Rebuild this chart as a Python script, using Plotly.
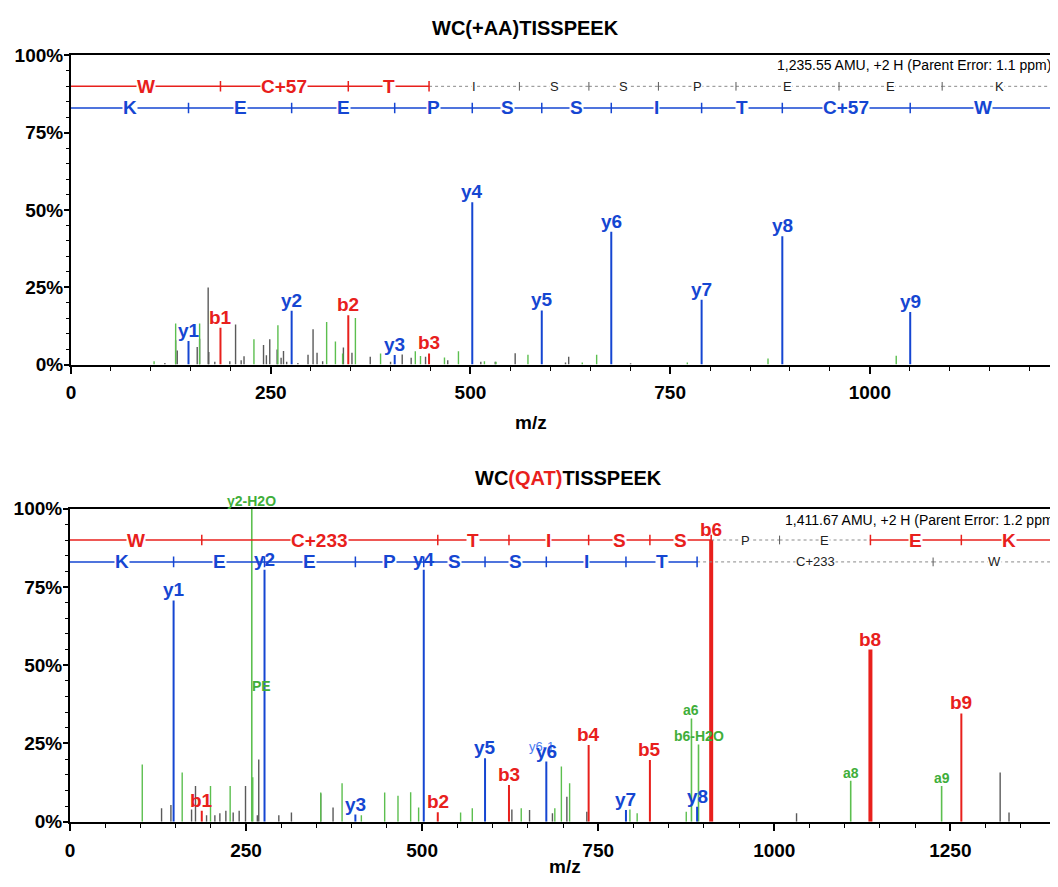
import plotly.graph_objects as go

# ================= DATA =================
# ---- Top spectrum: WC(+AA)TISSPEEK ----
top_y_lab = ["y1", "y2", "y3", "y4", "y5", "y6", "y7", "y8", "y9"]
top_y_mz = [147.1, 276.2, 405.2, 502.3, 589.3, 676.3, 789.4, 890.4, 1050.5]
top_y_int = [7.6, 17.4, 3.1, 52.5, 17.5, 43.0, 21.0, 41.5, 17.0]

top_b_lab = ["b1", "b2", "b3"]
top_b_mz = [187.1, 347.1, 448.2]
top_b_int = [11.9, 16.0, 3.6]

top_green_mz = [104, 131, 161, 229, 259, 320, 331, 340, 356, 387.5, 431, 437.5,
                467.5, 485, 517.5, 532, 572, 640, 658, 771.5, 872.5, 1033]
top_green_int = [1.1, 13.3, 13.3, 8.2, 12.7, 13.8, 7.5, 3.6, 15.1, 3.6, 4.3, 2.8,
                 2.3, 4.3, 1.1, 0.9, 3.2, 0.7, 3.2, 0.7, 2.0, 2.9]

top_gray_mz = [117.5, 131, 133, 158, 161, 171.7, 172.5, 180, 198.8, 206, 213, 216.6,
               241, 244.6, 248.8, 258, 263, 266, 270, 284, 296.7, 303, 308, 315,
               341, 351.7, 374.6, 400, 414.6, 425.8, 443.8, 471.6, 513, 531, 556,
               619, 623, 700.5]
top_gray_int = [0.5, 7.9, 4.6, 5.7, 8.4, 24.9, 4.1, 0.9, 1.1, 13.0, 1.4, 2.7,
                6.3, 3.0, 8.2, 4.9, 2.2, 4.4, 0.9, 0.5, 3.2, 11.4, 3.8, 1.1,
                5.5, 3.8, 2.5, 0.9, 3.3, 2.2, 2.5, 1.4, 0.9, 0.9, 3.7,
                0.7, 2.5, 0.4]

top_b_ladder = [187.1, 347.1, 448.2, 561.3, 648.3, 735.3, 832.4, 961.4, 1090.5]
top_b_res = ["W", "C+57", "T", "I", "S", "S", "P", "E", "E", "K"]
top_b_on = [1, 1, 1, 0, 0, 0, 0, 0, 0, 0]
top_y_ladder = [147.1, 276.2, 405.2, 502.3, 589.3, 676.3, 789.4, 890.4, 1050.5]
top_y_res = ["K", "E", "E", "P", "S", "S", "I", "T", "C+57", "W"]
top_y_on = [1, 1, 1, 1, 1, 1, 1, 1, 1, 1]

# ---- Bottom spectrum: WC(QAT)TISSPEEK ----
bot_y_lab = ["y1", "y2", "y3", "y4", "y5", "y6", "y7", "y8"]
bot_y_mz = [147.1, 276.2, 405.2, 502.3, 589.3, 676.3, 789.4, 890.4]
bot_y_int = [70.7, 80.5, 2.3, 80.5, 20.3, 19.2, 3.7, 4.8]

bot_b_lab = ["b1", "b2", "b3", "b4", "b5", "b6", "b8", "b9"]
bot_b_mz = [187.1, 522.2, 623.3, 736.4, 823.4, 910.4, 1136.5, 1265.6]
bot_b_int = [3.5, 3.0, 11.7, 24.5, 19.7, 90.0, 55.0, 34.6]

bot_glab = ["y2-H2O", "a6", "b6-H2O", "a8", "a9"]
bot_glab_mz = [258.1, 882.4, 892.4, 1108.5, 1237.6]
bot_glab_int = [100.0, 33.0, 24.7, 13.1, 11.4]

bot_green_mz = [102.6, 159.3, 199.5, 227.4, 259.5, 356, 386.3, 413.7, 446.8, 465.7,
                483.7, 495, 554.6, 571.2, 640.7, 688.4, 697.7, 709.4, 795, 805.3, 875]
bot_green_int = [18.3, 15.7, 11.4, 11.4, 14.2, 9.3, 12.3, 2.1, 9.3, 8.3,
                 9.4, 4.5, 2.9, 4.3, 4.3, 4.3, 17.6, 12.3, 3.9, 2.7, 3.2]

bot_gray_mz = [130, 143.3, 172.6, 178.2, 193.9, 205.7, 212.8, 221.3, 231.7, 240.2,
               249.2, 266, 268, 296.5, 314.4, 356, 373.5, 627.4, 652.5, 685,
               705.5, 733.8, 1031.6, 1320.7, 1333.3]
bot_gray_int = [4.3, 5.3, 3.9, 11.4, 2.1, 2.1, 2.7, 3.5, 2.9, 3.5,
                11.4, 2.1, 19.9, 2.1, 2.9, 9.0, 4.5, 3.9, 3.7, 2.7,
                8.0, 3.2, 2.7, 15.7, 2.9]

bot_b_ladder = [187.1, 522.2, 623.3, 736.4, 823.4, 910.4, 1007.5, 1136.5, 1265.6]
bot_b_res = ["W", "C+233", "T", "I", "S", "S", "P", "E", "E", "K"]
bot_b_on = [1, 1, 1, 1, 1, 1, 0, 0, 1, 1]
bot_y_ladder = [147.1, 276.2, 405.2, 502.3, 589.3, 676.3, 789.4, 890.4, 1225.5]
bot_y_res = ["K", "E", "E", "P", "S", "S", "I", "T", "C+233", "W"]
bot_y_on = [1, 1, 1, 1, 1, 1, 1, 1, 0, 0]

pct_vals = [0, 25, 50, 75, 100]
pct_text = ["0%", "25%", "50%", "75%", "100%"]
mz_ticks = [0, 250, 500, 750, 1000, 1250]

top_xmax = 1233
bot_xmax = 1400

# ================= STYLE =================
RED = "#e8201c"
BLUE = "#1546d2"
GREEN = "#5cbf4f"
GLAB = "#3fae3a"
GRAY = "#5a5a5a"
DOT = "#8a8a8a"
FONT = "Liberation Sans, Arial, sans-serif"
OFF = 8                # page body margin of the html page
W, H = 1058 - OFF, 887 - 2 * OFF

fig = go.Figure()
ann = []


def sticks(mz, inten, color, width, xa, ya):
    xs, ys = [], []
    for m, v in zip(mz, inten):
        xs += [m, m, None]
        ys += [0, v, None]
    fig.add_trace(go.Scatter(x=xs, y=ys, mode="lines", line=dict(color=color, width=width),
                             xaxis=xa, yaxis=ya, hoverinfo="skip", showlegend=False))


def labels(mz, inten, texts, color, size, xa, ya):
    for m, v, t in zip(mz, inten, texts):
        ann.append(dict(x=m, y=v, xref=xa, yref=ya, text=f"<b>{t}</b>",
                        showarrow=False, xanchor="center", yanchor="bottom", yshift=-2,
                        font=dict(family=FONT, size=size, color=color)))


def ladder(pos, res, on, color, yv, xmax, xa, ya):
    edges = [0] + list(pos) + [xmax]
    sx, sy, dx, dy = [], [], [], []
    for i in range(len(res)):
        a, b = edges[i], edges[i + 1]
        if on[i]:
            sx += [a, b, None]; sy += [yv, yv, None]
        else:
            dx += [a, b, None]; dy += [yv, yv, None]
    fig.add_trace(go.Scatter(x=dx, y=dy, mode="lines", line=dict(color=DOT, width=1, dash="dot"),
                             xaxis=xa, yaxis=ya, hoverinfo="skip", showlegend=False))
    fig.add_trace(go.Scatter(x=sx, y=sy, mode="lines", line=dict(color=color, width=1.5),
                             xaxis=xa, yaxis=ya, hoverinfo="skip", showlegend=False))
    tcx, tcy, tgx, tgy = [], [], [], []
    for i, p in enumerate(pos):
        if on[i] or on[i + 1]:
            tcx += [p, p, None]; tcy += [yv - 1.7, yv + 1.7, None]
        else:
            tgx += [p, p, None]; tgy += [yv - 1.4, yv + 1.4, None]
    fig.add_trace(go.Scatter(x=tcx, y=tcy, mode="lines", line=dict(color=color, width=1.5),
                             xaxis=xa, yaxis=ya, hoverinfo="skip", showlegend=False))
    fig.add_trace(go.Scatter(x=tgx, y=tgy, mode="lines", line=dict(color=GRAY, width=1),
                             xaxis=xa, yaxis=ya, hoverinfo="skip", showlegend=False))
    for i, r in enumerate(res):
        mid = (edges[i] + edges[i + 1]) / 2
        if on[i]:
            ann.append(dict(x=mid, y=yv, xref=xa, yref=ya, text=f"<b>{r}</b>", showarrow=False,
                            xanchor="center", yanchor="middle", bgcolor="white", borderpad=0,
                            font=dict(family=FONT, size=19, color=color)))
        else:
            ann.append(dict(x=mid, y=yv, xref=xa, yref=ya, text=r, showarrow=False,
                            xanchor="center", yanchor="middle", bgcolor="white", borderpad=0,
                            font=dict(family=FONT, size=13, color="#222222")))


# ---- top panel ----
sticks(top_gray_mz, top_gray_int, GRAY, 1.4, "x", "y")
sticks(top_green_mz, top_green_int, GREEN, 1.4, "x", "y")
sticks(top_b_mz, top_b_int, RED, 2, "x", "y")
sticks(top_y_mz, top_y_int, BLUE, 2, "x", "y")
ladder(top_b_ladder, top_b_res, top_b_on, RED, 90, top_xmax, "x", "y")
ladder(top_y_ladder, top_y_res, top_y_on, BLUE, 83, top_xmax, "x", "y")
labels(top_y_mz, top_y_int, top_y_lab, BLUE, 19, "x", "y")
labels(top_b_mz, top_b_int, top_b_lab, RED, 19, "x", "y")

# ---- bottom panel ----
sticks(bot_gray_mz, bot_gray_int, GRAY, 1.4, "x2", "y2")
sticks(bot_green_mz, bot_green_int, GREEN, 1.4, "x2", "y2")
sticks(bot_glab_mz, bot_glab_int, GREEN, 1.6, "x2", "y2")
thin_b = [i for i, l in enumerate(bot_b_lab) if l not in ("b6", "b8")]
thick_b = [i for i, l in enumerate(bot_b_lab) if l in ("b6", "b8")]
sticks([bot_b_mz[i] for i in thin_b], [bot_b_int[i] for i in thin_b], RED, 2, "x2", "y2")
sticks([bot_b_mz[i] for i in thick_b], [bot_b_int[i] for i in thick_b], RED, 4, "x2", "y2")
sticks(bot_y_mz, bot_y_int, BLUE, 2, "x2", "y2")
ladder(bot_b_ladder, bot_b_res, bot_b_on, RED, 90, bot_xmax, "x2", "y2")
ladder(bot_y_ladder, bot_y_res, bot_y_on, BLUE, 83, bot_xmax, "x2", "y2")
labels(bot_glab_mz, bot_glab_int, bot_glab, GLAB, 14, "x2", "y2")
ann.append(dict(x=272, y=43.2, xref="x2", yref="y2", text="<b>PE</b>", showarrow=False,
                xanchor="center", yanchor="middle",
                font=dict(family=FONT, size=14, color=GLAB)))
ann.append(dict(x=670, y=19.2, xref="x2", yref="y2", text="y6-1", showarrow=False,
                xanchor="center", yanchor="bottom", yshift=6,
                font=dict(family=FONT, size=13, color="#4d7cf0")))
labels(bot_y_mz, bot_y_int, bot_y_lab, BLUE, 19, "x2", "y2")
labels(bot_b_mz, bot_b_int, bot_b_lab, RED, 19, "x2", "y2")


def px(xp):
    return (xp - OFF) / W


def py(yp):
    return (H - (yp - OFF)) / H


def ptext(x, y, text, size, xanchor="center", bold=True):
    ann.append(dict(x=px(x), y=py(y), xref="paper", yref="paper", xanchor=xanchor,
                    yanchor="middle", text=(f"<b>{text}</b>" if bold else text), showarrow=False,
                    font=dict(family=FONT, size=size, color="black")))


# titles & texts
ptext(525, 28, "WC(+AA)TISSPEEK", 20)
ptext(568, 478, "WC<span style='color:#e8201c'>(QAT)</span>TISSPEEK", 20)
ptext(1053, 65, "1,235.55 AMU, +2 H (Parent Error: 1.1 ppm)", 14, xanchor="right", bold=False)
ptext(1056, 520, "1,411.67 AMU, +2 H (Parent Error: 1.2 ppm", 14, xanchor="right", bold=False)
ptext(531, 422, "m/z", 19)
ptext(565, 866, "m/z", 19)

tickfont = dict(family=FONT, size=19, color="black", weight="bold")


def xaxis(rng, dom, anchor):
    return dict(range=rng, domain=dom, anchor=anchor, showgrid=False, zeroline=False,
                automargin=False, showline=True, linecolor="black", linewidth=2, mirror=True,
                tickmode="array", tickvals=mz_ticks, ticktext=[str(v) for v in mz_ticks],
                ticks="outside", ticklen=7, tickwidth=1.5,
                tickcolor="black", tickfont=tickfont, ticklabelstandoff=3,
                minor=dict(dtick=50, ticks="outside", ticklen=4, tickcolor="black", tickwidth=1))


def yaxis(dom, anchor):
    return dict(range=[0, 100], domain=dom, anchor=anchor, showgrid=False, zeroline=False,
                automargin=False, showline=True, linecolor="black", linewidth=2, mirror=True,
                tickmode="array", tickvals=pct_vals, ticktext=pct_text,
                ticks="outside", ticklen=5,
                tickwidth=1.5, tickcolor="black", tickfont=tickfont, ticklabelstandoff=-3,
                minor=dict(dtick=5, ticks="outside", ticklen=3, tickcolor="black", tickwidth=1))


fig.update_layout(
    template="none",
    width=W, height=H, margin=dict(l=0, r=0, t=0, b=0, pad=0, autoexpand=False),
    paper_bgcolor="white", plot_bgcolor="white", showlegend=False,
    xaxis=xaxis([0, top_xmax], [px(71), px(1056)], "y"),
    yaxis=yaxis([py(364.6), py(55.4)], "x"),
    xaxis2=xaxis([0, bot_xmax], [px(70), px(1056)], "y2"),
    yaxis2=yaxis([py(821.7), py(508.7)], "x2"),
    annotations=ann,
)

fig.write_html("out.html")
